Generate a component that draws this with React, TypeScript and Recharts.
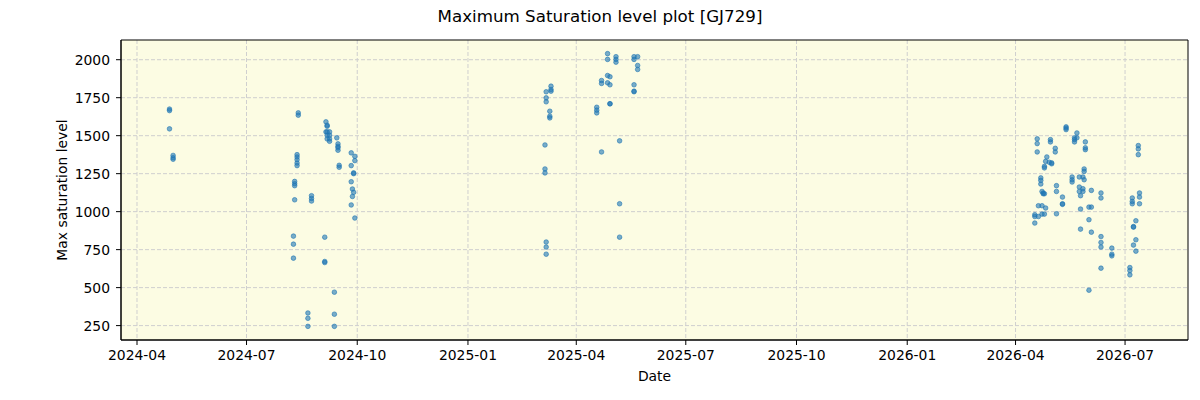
import React from 'react';
import { ScatterChart, Scatter, XAxis, YAxis, CartesianGrid, ReferenceArea } from 'recharts';

// observing nights and the max saturation levels measured on each
const nights = [
  '2024-04-28', '2024-05-01', '2024-08-09', '2024-08-10', '2024-08-12', '2024-08-13',
  '2024-08-21', '2024-08-24', '2024-09-04', '2024-09-05', '2024-09-06', '2024-09-08',
  '2024-09-12', '2024-09-14', '2024-09-15', '2024-09-16', '2024-09-26', '2024-09-27',
  '2024-09-28', '2024-09-29',
  '2025-03-06', '2025-03-07', '2025-03-10', '2025-03-11', '2025-04-18', '2025-04-22',
  '2025-04-27', '2025-04-29', '2025-05-04', '2025-05-07', '2025-05-19', '2025-05-22',
  '2026-04-17', '2026-04-19', '2026-04-20', '2026-04-22', '2026-04-23', '2026-04-24',
  '2026-04-25', '2026-04-26', '2026-04-27', '2026-04-29', '2026-04-30', '2026-05-01',
  '2026-05-04', '2026-05-05', '2026-05-10', '2026-05-13', '2026-05-18', '2026-05-20',
  '2026-05-22', '2026-05-24', '2026-05-25', '2026-05-27', '2026-05-28', '2026-05-29',
  '2026-06-01', '2026-06-03', '2026-06-11', '2026-06-20', '2026-07-05', '2026-07-07',
  '2026-07-08', '2026-07-10', '2026-07-12', '2026-07-13',
];

const levels = [
  [1675, 1665, 1545], [1370, 1355, 1345], [839, 786, 694], [1199, 1184, 1171, 1078],
  [1375, 1360, 1342, 1320, 1303], [1650, 1635],
  [333, 298, 245], [1105, 1087, 1070], [832, 672, 665], [1591, 1525],
  [1569, 1562, 1525, 1503, 1479], [1525, 1503, 1479, 1463],
  [470, 325, 245], [1486], [1446, 1430, 1420, 1404], [1305, 1292],
  [1387, 1303, 1197, 1044], [1149, 1100],
  [1255, 1250, 1127], [1364, 1336, 958],
  [1439, 1281, 1255], [1789, 1749, 1723, 800, 767, 720], [1661, 1628, 1617], [1826, 1804, 1793],
  [1687, 1668, 1650], [1863, 1844, 1393],
  [2040, 2002, 1896, 1848], [1888, 1835, 1710, 1710], [2020, 2002, 1984], [1466, 1052, 832],
  [2020, 2002, 1835, 1793, 1789], [2020, 1962, 1936],
  [980, 968, 925], [1479, 1448, 1393], [1039, 968], [1222, 1206, 1182], [1133, 1039, 984],
  [1123, 1118],
  [1298, 1288, 1118, 984], [1331, 1024], [1360], [1325], [1474, 1459], [1321, 1315],
  [1417, 1393], [1171, 1133, 986], [1096, 1052, 1048], [1558, 1550, 1540], [1228, 1210, 1195],
  [1486, 1474, 1459],
  [1518, 1486], [1228, 1162, 1133], [1105, 1017, 885], [1228, 1151, 1133], [1281, 1265, 1210],
  [1459, 1420, 1408],
  [1030, 947, 483], [1140, 1030, 865], [1123, 1090, 836, 797, 767, 628], [760, 720, 709],
  [632, 612, 584], [1090, 1067, 1052],
  [902, 898, 780], [940, 815, 740], [1435, 1413, 1375], [1123, 1096, 1052],
];

const tickMonths = [
  '2024-04', '2024-07', '2024-10', '2025-01', '2025-04',
  '2025-07', '2025-10', '2026-01', '2026-04', '2026-07',
];
const levelTicks = [250, 500, 750, 1000, 1250, 1500, 1750, 2000];

const DAY_MS = 86400000;
const toDay = (s: string) => Date.parse(s + 'T00:00:00Z') / DAY_MS;
const monthLabel = (d: number) => new Date(Math.round(d) * DAY_MS).toISOString().slice(0, 7);

const points = nights.flatMap((n, i) => levels[i].map((v) => ({ day: toDay(n), level: v })));

// autoscale with 5% margins on both ends
const padded = (vals: number[]): [number, number] => {
  const lo = Math.min(...vals);
  const hi = Math.max(...vals);
  const m = (hi - lo) * 0.05;
  return [lo - m, hi + m];
};
const xDomain = padded(points.map((p) => p.day));
const yDomain = padded(points.map((p) => p.level));
const xTicks = tickMonths.map((m) => toDay(m + '-01'));

const FONT = "'DejaVu Sans', sans-serif";
const tickStyle = { fontSize: 13.9, fill: '#000', fontFamily: FONT };

const Dot = (p: any) => (
  <circle
    cx={p.cx}
    cy={p.cy}
    r={2.3}
    fill="#1f77b4"
    fillOpacity={0.6}
    stroke="#1f77b4"
    strokeOpacity={0.6}
    strokeWidth={1}
  />
);

const App: React.FC = () => {
  return (
    <div
      style={{
        position: 'absolute',
        left: 0,
        top: 0,
        width: 1200,
        height: 400,
        background: '#fff',
        fontFamily: FONT,
      }}
    >
      <div
        style={{
          position: 'absolute',
          top: 6,
          width: 1200,
          textAlign: 'center',
          fontSize: 16.7,
          lineHeight: '20px',
          color: '#000',
        }}
      >
        Maximum Saturation level plot [GJ729]
      </div>
      <ScatterChart width={1200} height={400} margin={{ top: 40, right: 12, bottom: 0, left: 0 }}>
        <CartesianGrid
          fill="#fcfce3"
          stroke="#cfcfcf"
          strokeDasharray="4 2"
          horizontalValues={levelTicks}
          verticalValues={xTicks}
        />
        <XAxis
          type="number"
          dataKey="day"
          domain={xDomain}
          ticks={xTicks}
          tickFormatter={monthLabel}
          allowDataOverflow
          height={60}
          tick={tickStyle}
          tickSize={5}
          tickMargin={5}
          stroke="#000"
          label={{
            content: (props: any) => {
              const vb = props.viewBox;
              return (
                <text
                  x={vb.x + vb.width / 2}
                  y={vb.y + 41}
                  textAnchor="middle"
                  fontSize={13.9}
                  fontFamily={FONT}
                  fill="#000"
                >
                  Date
                </text>
              );
            },
          }}
        />
        <YAxis
          type="number"
          dataKey="level"
          domain={yDomain}
          ticks={levelTicks}
          allowDataOverflow
          width={121}
          tick={tickStyle}
          tickSize={5}
          tickMargin={6}
          stroke="#000"
          label={{
            content: (props: any) => {
              const vb = props.viewBox;
              const cx = vb.x + 67;
              const cy = vb.y + vb.height / 2;
              return (
                <text
                  x={cx}
                  y={cy}
                  transform={`rotate(-90 ${cx} ${cy})`}
                  textAnchor="middle"
                  fontSize={13.9}
                  fontFamily={FONT}
                  fill="#000"
                >
                  Max saturation level
                </text>
              );
            },
          }}
        />
        <ReferenceArea
          x1={xDomain[0]}
          x2={xDomain[1]}
          y1={yDomain[0]}
          y2={yDomain[1]}
          fill="none"
          stroke="#000"
          strokeWidth={1}
        />
        <Scatter data={points} shape={Dot} isAnimationActive={false} />
      </ScatterChart>
    </div>
  );
};

export default App;
